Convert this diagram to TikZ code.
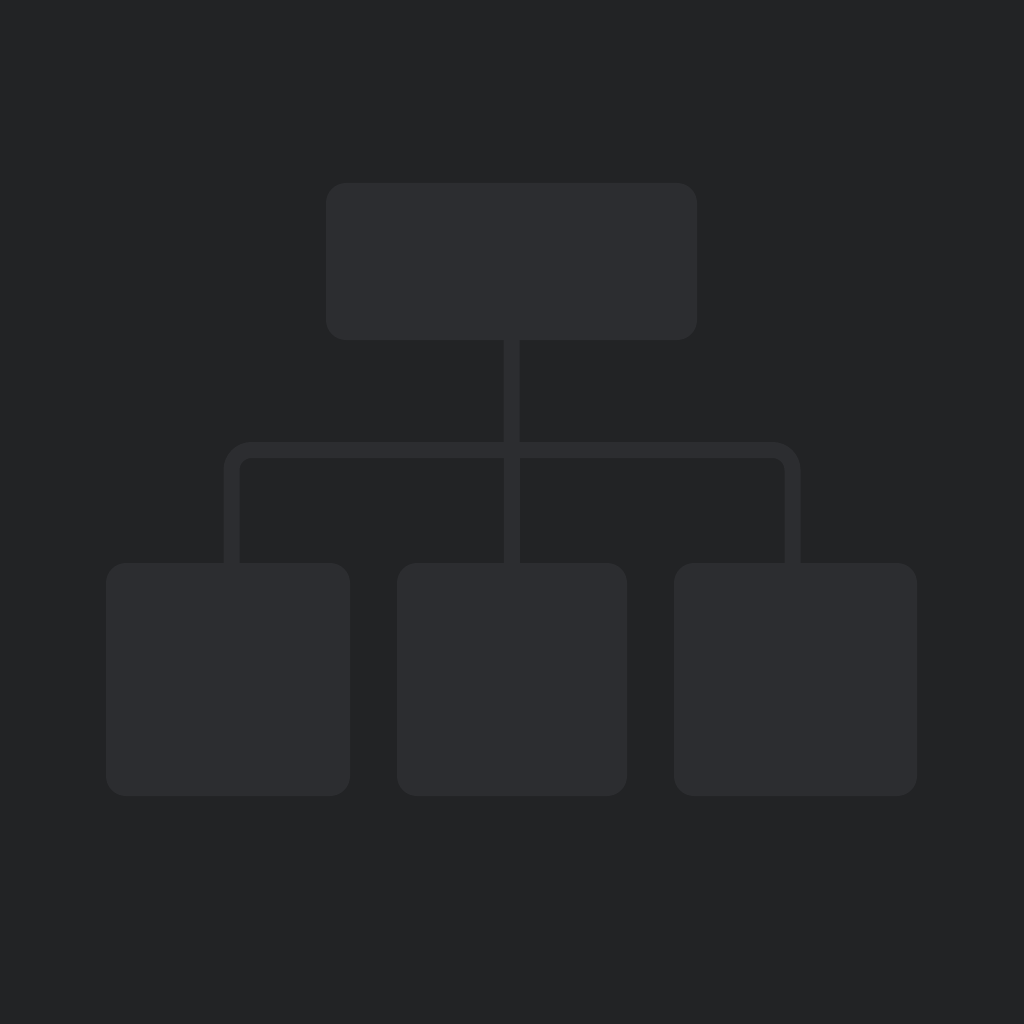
\documentclass[tikz,border=0pt]{standalone}
\definecolor{bgc}{HTML}{222325}
\definecolor{boxc}{HTML}{2C2D30}
\pgfdeclarelayer{bgfill}
\pgfdeclarelayer{lines}
\pgfsetlayers{bgfill,lines,main}
\tikzset{
  card/.style={fill=boxc, draw=none, rounded corners=20pt, inner sep=0pt, minimum width=#1},
  conn/.style={draw=boxc, line width=16pt, line cap=butt, rounded corners=20pt}
}
\begin{document}
\begin{tikzpicture}[x=1pt,y=-1pt]
\begin{pgfonlayer}{bgfill}
\fill[bgc] (0,0) rectangle (1024,1024);
\end{pgfonlayer}
\useasboundingbox (0,0) rectangle (1024,1024);
\node[card=371pt, minimum height=157pt] (top) at (511.5,261.5) {};
\node[card=244pt, minimum height=233pt] (left) at (228,679.5) {};
\node[card=230pt, minimum height=233pt] (mid) at (512,679.5) {};
\node[card=243pt, minimum height=233pt] (right) at (795.5,679.5) {};
\coordinate (lj) at (231.5,570);
\coordinate (rj) at (792.5,570);
\coordinate (hl) at (231.5,450);
\coordinate (hr) at (792.5,450);
\begin{pgfonlayer}{lines}
\draw[conn] ([yshift=5pt]top.south) -- ([yshift=-5pt]mid.north);
\draw[conn] (lj) -- (hl) -- (hr) -- (rj);
\end{pgfonlayer}
\end{tikzpicture}
\end{document}
